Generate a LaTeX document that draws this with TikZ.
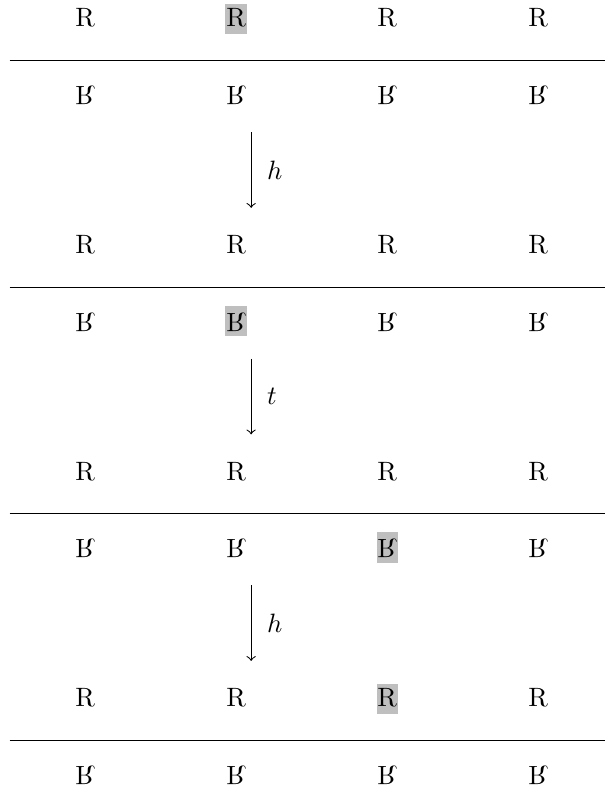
\documentclass[tikz,border=0pt]{standalone}
\usepackage{tikz}
\usetikzlibrary{positioning}

\begin{document}
\begin{tikzpicture}[
    letter/.style={inner sep=0.3pt, text height=8.4pt, text depth=2.4pt},
    marked/.style={letter, fill=gray!50},
    upside/.style={yscale=-1}
  ]
  \useasboundingbox (-1.126, 0.252) rectangle (6.887, -10.21);

  % first state
  \node[letter] (ra1) at (0, 0) {R};
  \node[marked] (ra2) at (2, 0) {R};
  \node[letter] (ra3) at (4, 0) {R};
  \node[letter] (ra4) at (6, 0) {R};
  \coordinate (la) at (-1, -0.55);
  \coordinate (la') at (6.887, -0.55);
  \draw (la) -- (la');
  \node[letter, upside] (fa1) at (0, -1) {R};
  \node[letter, upside] (fa2) at (2, -1) {R};
  \node[letter, upside] (fa3) at (4, -1) {R};
  \node[letter, upside] (fa4) at (6, -1) {R};

  \coordinate (sa) at (2.2, -1.5);
  \coordinate (ea) at (2.2, -2.5);
  \draw[->] (sa) -- node[right=2.5pt] {$h$} (ea);

  % second state
  \node[letter] (rb1) at (0, -3) {R};
  \node[letter] (rb2) at (2, -3) {R};
  \node[letter] (rb3) at (4, -3) {R};
  \node[letter] (rb4) at (6, -3) {R};
  \coordinate (lb) at (-1, -3.55);
  \coordinate (lb') at (6.887, -3.55);
  \draw (lb) -- (lb');
  \node[letter, upside] (fb1) at (0, -4) {R};
  \node[marked, upside] (fb2) at (2, -4) {R};
  \node[letter, upside] (fb3) at (4, -4) {R};
  \node[letter, upside] (fb4) at (6, -4) {R};

  \coordinate (sb) at (2.2, -4.5);
  \coordinate (eb) at (2.2, -5.5);
  \draw[->] (sb) -- node[right=2.5pt] {$t$} (eb);

  % third state
  \node[letter] (rc1) at (0, -6) {R};
  \node[letter] (rc2) at (2, -6) {R};
  \node[letter] (rc3) at (4, -6) {R};
  \node[letter] (rc4) at (6, -6) {R};
  \coordinate (lc) at (-1, -6.55);
  \coordinate (lc') at (6.887, -6.55);
  \draw (lc) -- (lc');
  \node[letter, upside] (fc1) at (0, -7) {R};
  \node[letter, upside] (fc2) at (2, -7) {R};
  \node[marked, upside] (fc3) at (4, -7) {R};
  \node[letter, upside] (fc4) at (6, -7) {R};

  \coordinate (sc) at (2.2, -7.5);
  \coordinate (ec) at (2.2, -8.5);
  \draw[->] (sc) -- node[right=2.5pt] {$h$} (ec);

  % fourth state
  \node[letter] (rd1) at (0, -9) {R};
  \node[letter] (rd2) at (2, -9) {R};
  \node[marked] (rd3) at (4, -9) {R};
  \node[letter] (rd4) at (6, -9) {R};
  \coordinate (ld) at (-1, -9.55);
  \coordinate (ld') at (6.887, -9.55);
  \draw (ld) -- (ld');
  \node[letter, upside] (fd1) at (0, -10) {R};
  \node[letter, upside] (fd2) at (2, -10) {R};
  \node[letter, upside] (fd3) at (4, -10) {R};
  \node[letter, upside] (fd4) at (6, -10) {R};
\end{tikzpicture}
\end{document}
